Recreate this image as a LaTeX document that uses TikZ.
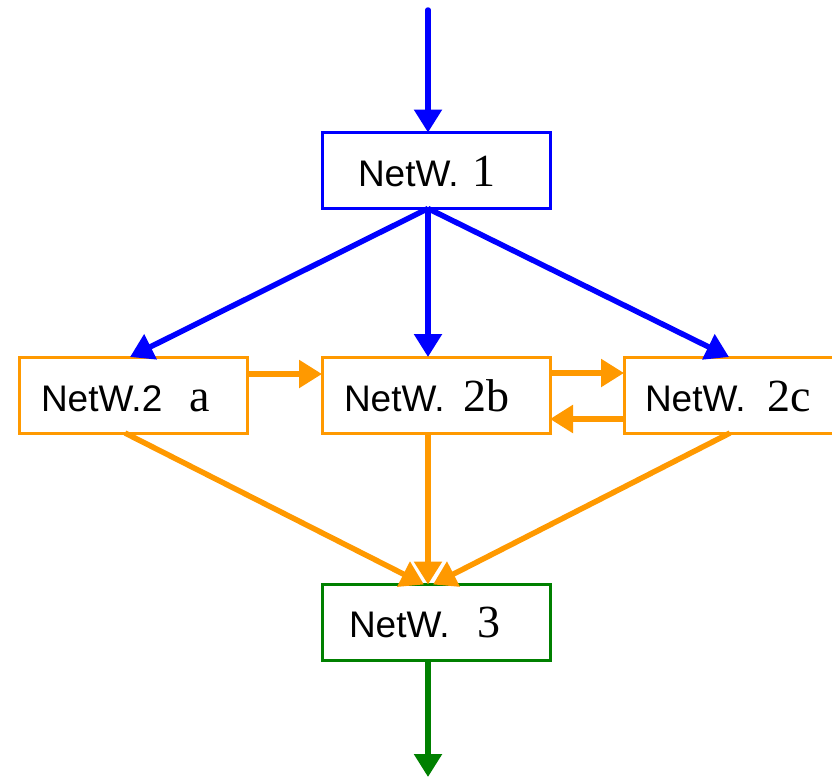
\documentclass[tikz,border=0pt]{standalone}
\usepackage{fontspec}
\setmainfont{Liberation Serif}
\setsansfont{Liberation Sans}
\usetikzlibrary{arrows.meta}
\definecolor{netblue}{RGB}{0,0,255}
\definecolor{netorange}{RGB}{255,153,0}
\definecolor{netgreen}{RGB}{0,128,0}
% "NetW." in sans, the network number in a larger serif
\newcommand{\netw}[1]{{\fontsize{37}{42}\selectfont\sffamily #1}}
\newcommand{\netnum}[1]{{\fontsize{46}{50}\selectfont\rmfamily #1}}

\begin{document}
\begin{tikzpicture}[x=1pt,y=-1pt,
  box/.style={draw, line width=3pt, fill=white, minimum width=228pt,
    minimum height=76pt, inner sep=0pt, outer sep=0pt},
  lbl/.style={anchor=base west, inner sep=0pt, outer sep=0pt},
  flow/.style={line width=5.5pt, -{Triangle[length=23pt,width=27pt]}},
]
\useasboundingbox (0,0) rectangle (832,779);

% network boxes
\node[box, draw=netblue]   (n1)  at (436,170.5) {};
\node[box, draw=netorange] (n2a) at (133.5,395) {};
\node[box, draw=netorange] (n2b) at (436,395) {};
\node[box, draw=netorange] (n2c) at (738,395) {};
\node[box, draw=netgreen]  (n3)  at (436,622.5) {};

% box labels
\node[lbl] (t1)  at (358,186) {\netw{NetW.}\hspace{14pt}\netnum{1}};
\node[lbl] (t2a) at (41,411)  {\netw{NetW.2}\hspace{27pt}\netnum{a}};
\node[lbl] (t2b) at (344,411) {\netw{NetW.}\hspace{19pt}\netnum{2b}};
\node[lbl] (t2c) at (645,411) {\netw{NetW.}\hspace{22pt}\netnum{2c}};
\node[lbl] (t3)  at (349,637) {\netw{NetW.}\hspace{28pt}\netnum{3}};

% free ends of the input and output arrows
\coordinate (src)  at (428,10);
\coordinate (sink) at (428,777);

% input
\draw[flow, netblue, line cap=round] (src) -- ([xshift=-8pt]n1.north);

% fan-out from network 1
\draw[flow, netblue] ([xshift=-8pt]n1.south) -- ([xshift=-3.5pt]n2a.north);
\draw[flow, netblue] ([xshift=-8pt]n1.south) -- ([xshift=-8pt]n2b.north);
\draw[flow, netblue] ([xshift=-8pt]n1.south) -- ([xshift=-9pt]n2c.north);

% links between the second-level networks
\draw[flow, netorange] ([yshift=21pt]n2a.east) -- ([yshift=21pt]n2b.west);
\draw[flow, netorange] ([yshift=22pt]n2b.east) -- ([yshift=22pt]n2c.west);
\draw[flow, netorange] ([yshift=-24pt]n2c.west) -- ([yshift=-24pt]n2b.east);

% fan-in to network 3
\draw[flow, netorange] ([xshift=-8.5pt]n2a.south) -- ([xshift=-12pt]n3.north);
\draw[flow, netorange] ([xshift=-8pt]n2b.south) -- ([xshift=-8pt]n3.north);
\draw[flow, netorange] ([xshift=-8pt]n2c.south) -- ([xshift=-3pt]n3.north);

% output
\draw[flow, netgreen] ([xshift=-8pt]n3.south) -- (sink);
\end{tikzpicture}
\end{document}
